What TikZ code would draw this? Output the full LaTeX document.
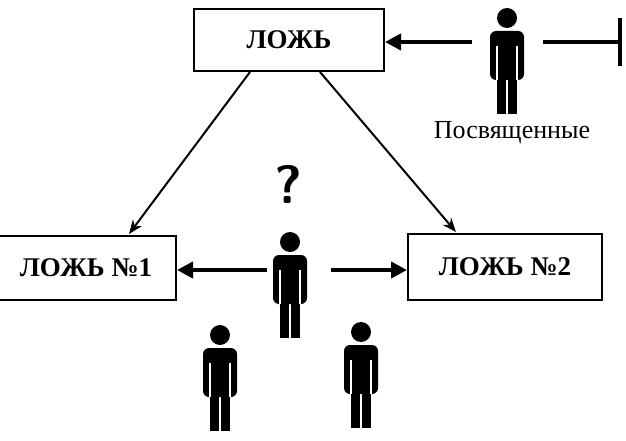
\documentclass[tikz,border=0pt]{standalone}
\usepackage{fontspec}
\setmainfont{Liberation Serif}
\usetikzlibrary{arrows.meta}
\begin{document}
\begin{tikzpicture}[x=1pt,y=-1pt,
  box/.style={draw,line width=2pt,minimum width=190pt,minimum height=62pt,font=\bfseries\fontsize{27}{30}\selectfont,inner sep=0pt},
  thick arrow/.style={line width=4pt,-{Triangle[length=16pt,width=16pt]}},
  thin arrow/.style={line width=2pt,-{Stealth[length=14pt,width=11pt]}},
  person/.pic={
    \fill (0,10) circle (10);
    \fill[rounded corners=6pt] (-17,23) rectangle (17,72);
    \fill (-10,68) rectangle (-1,106);
    \fill (1,68) rectangle (10,106);
    \draw[white,line width=1.2pt] (-10,38) -- (-10,72) (10,38) -- (10,72);
  }]
\useasboundingbox (0,0) rectangle (626,441);
\node[box] (top) at (289,40) {ЛОЖЬ};
\node[box,minimum width=180pt,minimum height=64pt] (left) at (86,268) {ЛОЖЬ №1};
\node[box,minimum width=194pt,minimum height=66pt] (right) at (505,267) {ЛОЖЬ №2};
\coordinate (t1) at (250,72);
\coordinate (t2) at (320,72);
\draw[thin arrow] (t1) -- (129,234);
\draw[thin arrow] (t2) -- (456,232);
\pic at (507,8) {person};
\coordinate (pl) at (472,42);
\coordinate (pr) at (543,42);
\coordinate (bar) at (620,42);
\draw[thick arrow] (pl) -- (top.east |- pl);
\draw[line width=4pt] (pr) -- (bar);
\draw[line width=3.5pt] (620,18) -- (620,66);
\node[font=\fontsize{26}{30}\selectfont] (lbl) at (512,133) {Посвященные};
\node[font=\sffamily\bfseries\fontsize{54}{58}\selectfont] (q) at (289,184) {?};
\pic at (290,232) {person};
\coordinate (cl) at (267,270);
\coordinate (cr) at (331,270);
\draw[thick arrow] (cl) -- (left.east |- cl);
\draw[thick arrow] (cr) -- (right.west |- cr);
\pic at (220,325) {person};
\pic at (361,322) {person};
\end{tikzpicture}
\end{document}
